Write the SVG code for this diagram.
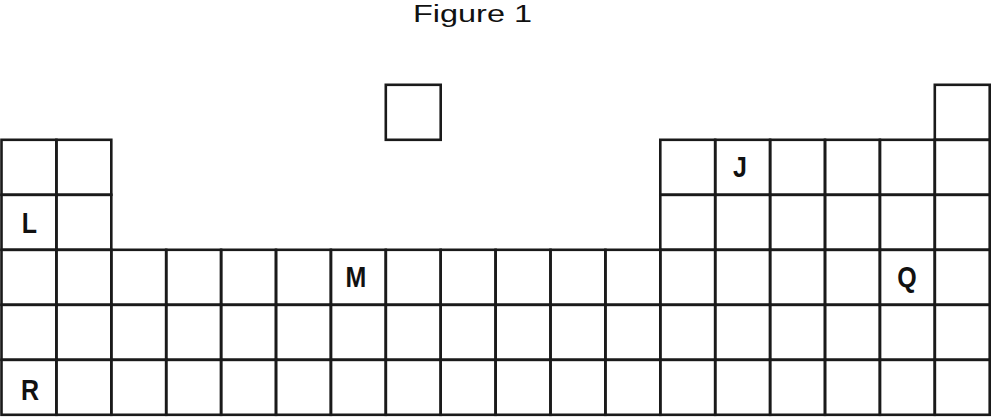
<svg xmlns="http://www.w3.org/2000/svg" xmlns:xlink="http://www.w3.org/1999/xlink" width="992" height="417" viewBox="0 0 992 417">
<style>
.c{fill:none;stroke:#1a1a1a;stroke-width:2.6}
.lbl{font-family:"Liberation Sans",Arial,sans-serif;font-weight:bold;font-size:25px;fill:#111;text-anchor:middle}
.title{font-family:"Liberation Sans",Arial,sans-serif;font-size:23px;fill:#111}
</style>
<defs>
<rect id="cell" class="c" width="54.9" height="55"/>
</defs>
<rect width="992" height="417" fill="#fff"/>
<text class="title" x="413" y="22" textLength="119" lengthAdjust="spacingAndGlyphs">Figure 1</text>
<g id="cells">
<g id="row0"><use xlink:href="#cell" x="385.8" y="84.8"/><use xlink:href="#cell" x="934.8" y="84.8"/></g>
<g id="row1"><use xlink:href="#cell" x="1.5" y="139.8"/><use xlink:href="#cell" x="56.4" y="139.8"/><use xlink:href="#cell" x="660.3" y="139.8"/><use xlink:href="#cell" x="715.2" y="139.8"/><use xlink:href="#cell" x="770.1" y="139.8"/><use xlink:href="#cell" x="825" y="139.8"/><use xlink:href="#cell" x="879.9" y="139.8"/><use xlink:href="#cell" x="934.8" y="139.8"/></g>
<g id="row2"><use xlink:href="#cell" x="1.5" y="194.8"/><use xlink:href="#cell" x="56.4" y="194.8"/><use xlink:href="#cell" x="660.3" y="194.8"/><use xlink:href="#cell" x="715.2" y="194.8"/><use xlink:href="#cell" x="770.1" y="194.8"/><use xlink:href="#cell" x="825" y="194.8"/><use xlink:href="#cell" x="879.9" y="194.8"/><use xlink:href="#cell" x="934.8" y="194.8"/></g>
<g id="row3"><use xlink:href="#cell" x="1.5" y="249.8"/><use xlink:href="#cell" x="56.4" y="249.8"/><use xlink:href="#cell" x="111.3" y="249.8"/><use xlink:href="#cell" x="166.2" y="249.8"/><use xlink:href="#cell" x="221.1" y="249.8"/><use xlink:href="#cell" x="276" y="249.8"/><use xlink:href="#cell" x="330.9" y="249.8"/><use xlink:href="#cell" x="385.8" y="249.8"/><use xlink:href="#cell" x="440.7" y="249.8"/><use xlink:href="#cell" x="495.6" y="249.8"/><use xlink:href="#cell" x="550.5" y="249.8"/><use xlink:href="#cell" x="605.4" y="249.8"/><use xlink:href="#cell" x="660.3" y="249.8"/><use xlink:href="#cell" x="715.2" y="249.8"/><use xlink:href="#cell" x="770.1" y="249.8"/><use xlink:href="#cell" x="825" y="249.8"/><use xlink:href="#cell" x="879.9" y="249.8"/><use xlink:href="#cell" x="934.8" y="249.8"/></g>
<g id="row4"><use xlink:href="#cell" x="1.5" y="304.8"/><use xlink:href="#cell" x="56.4" y="304.8"/><use xlink:href="#cell" x="111.3" y="304.8"/><use xlink:href="#cell" x="166.2" y="304.8"/><use xlink:href="#cell" x="221.1" y="304.8"/><use xlink:href="#cell" x="276" y="304.8"/><use xlink:href="#cell" x="330.9" y="304.8"/><use xlink:href="#cell" x="385.8" y="304.8"/><use xlink:href="#cell" x="440.7" y="304.8"/><use xlink:href="#cell" x="495.6" y="304.8"/><use xlink:href="#cell" x="550.5" y="304.8"/><use xlink:href="#cell" x="605.4" y="304.8"/><use xlink:href="#cell" x="660.3" y="304.8"/><use xlink:href="#cell" x="715.2" y="304.8"/><use xlink:href="#cell" x="770.1" y="304.8"/><use xlink:href="#cell" x="825" y="304.8"/><use xlink:href="#cell" x="879.9" y="304.8"/><use xlink:href="#cell" x="934.8" y="304.8"/></g>
<g id="row5"><use xlink:href="#cell" x="1.5" y="359.8"/><use xlink:href="#cell" x="56.4" y="359.8"/><use xlink:href="#cell" x="111.3" y="359.8"/><use xlink:href="#cell" x="166.2" y="359.8"/><use xlink:href="#cell" x="221.1" y="359.8"/><use xlink:href="#cell" x="276" y="359.8"/><use xlink:href="#cell" x="330.9" y="359.8"/><use xlink:href="#cell" x="385.8" y="359.8"/><use xlink:href="#cell" x="440.7" y="359.8"/><use xlink:href="#cell" x="495.6" y="359.8"/><use xlink:href="#cell" x="550.5" y="359.8"/><use xlink:href="#cell" x="605.4" y="359.8"/><use xlink:href="#cell" x="660.3" y="359.8"/><use xlink:href="#cell" x="715.2" y="359.8"/><use xlink:href="#cell" x="770.1" y="359.8"/><use xlink:href="#cell" x="825" y="359.8"/><use xlink:href="#cell" x="879.9" y="359.8"/><use xlink:href="#cell" x="934.8" y="359.8"/></g>
</g>
<g id="node-L"><text class="lbl" transform="translate(29.5,232.5) scale(1,1.15)">L</text></g>
<g id="node-J"><text class="lbl" transform="translate(740,177) scale(1,1.15)">J</text></g>
<g id="node-M"><text class="lbl" transform="translate(356,287) scale(1,1.15)">M</text></g>
<g id="node-Q"><text class="lbl" transform="translate(907,287) scale(1,1.15)">Q</text></g>
<g id="node-R"><text class="lbl" transform="translate(30,399.5) scale(1,1.15)">R</text></g>
<g id="connectors"/>
</svg>
